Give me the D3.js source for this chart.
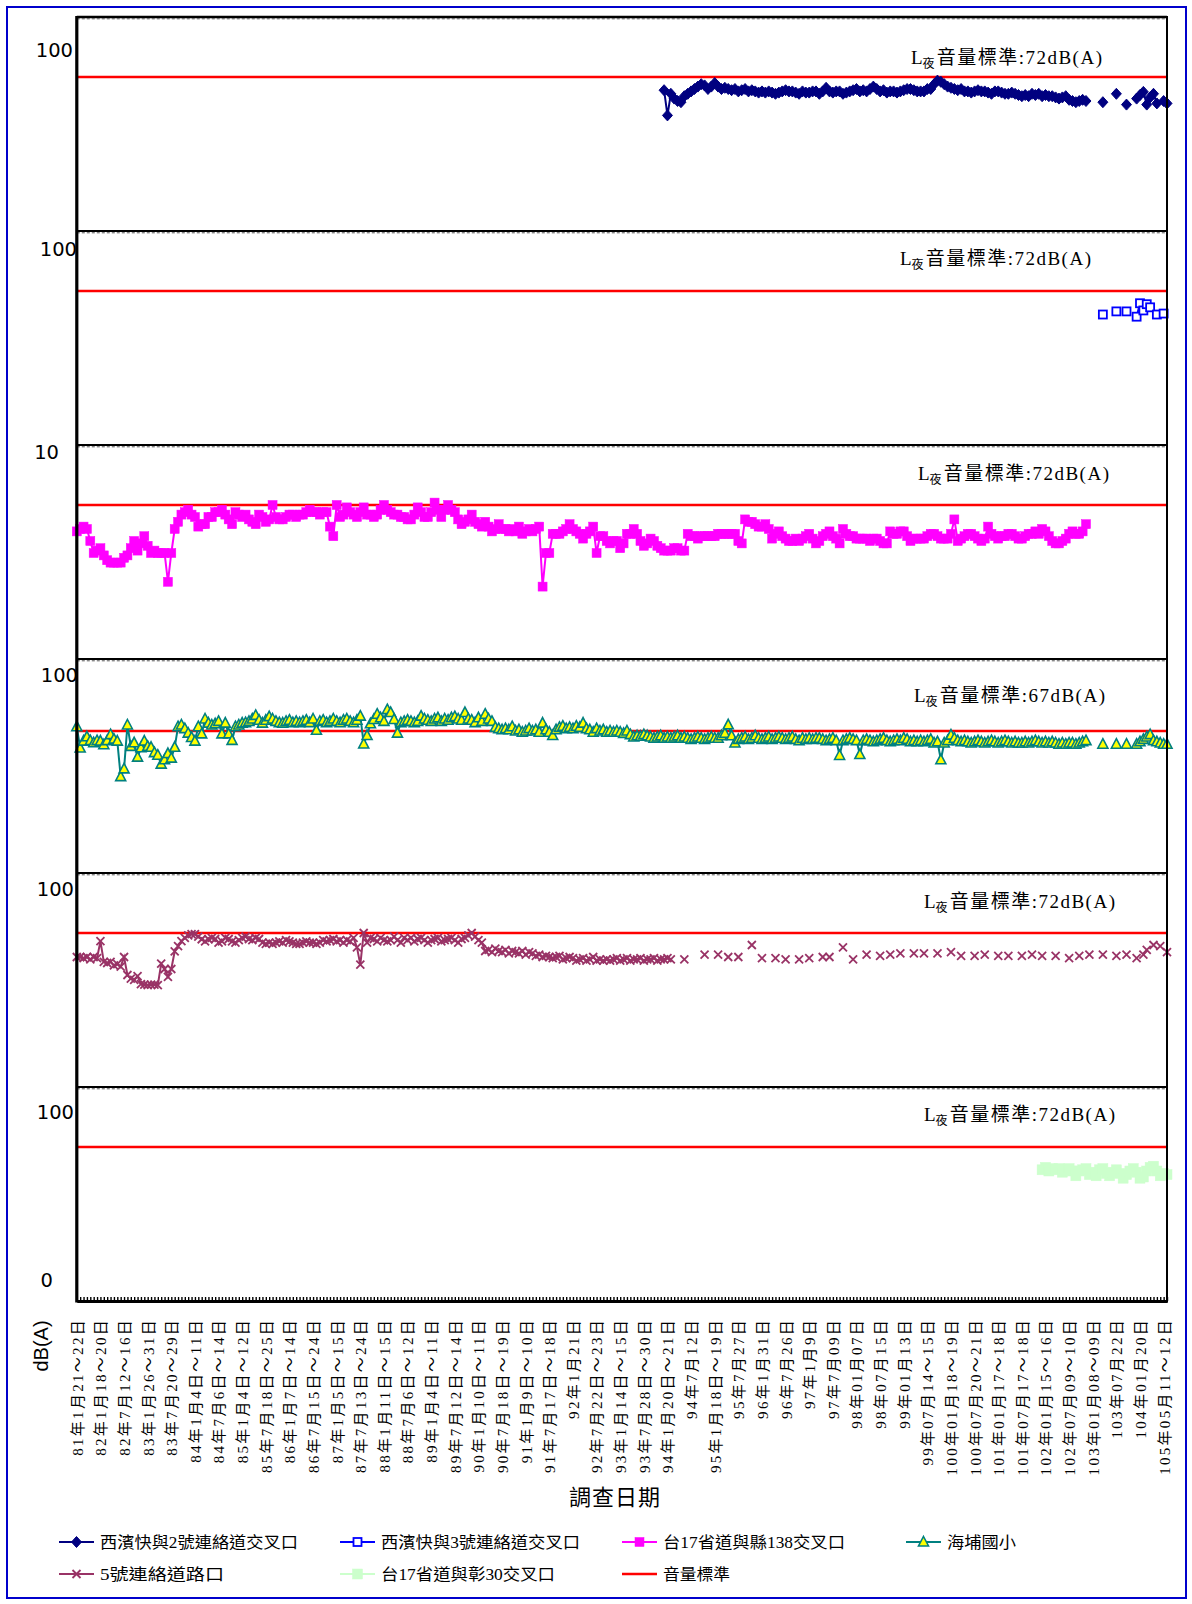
<!DOCTYPE html>
<html><head><meta charset="utf-8">
<script src="https://cdn.jsdelivr.net/npm/d3@7"></script>
<style>body{margin:0;background:#fff}svg{display:block}</style>
</head><body>
<svg id="chart" width="1192" height="1604"></svg>
<script>
// ---------------- DATA ----------------
const categoryCount = 324;           // survey sample slots along the x axis
const labelStep = 7;                 // one date label every 7 slots
const tickLabels = ["81年1月21～22日","82年1月18～20日","82年7月12～16日","83年1月26～31日","83年7月20～29日",
 "84年1月4日～11日","84年7月6日～14日","85年1月4日～12日","85年7月18日～25日","86年1月7日～14日",
 "86年7月15日～24日","87年1月5日～15日","87年7月13日～24日","88年1月11日～15日","88年7月6日～12日",
 "89年1月4日～11日","89年7月12日～14日","90年1月10日～11日","90年7月18日～19日","91年1月9日～10日",
 "91年7月17日～18日","92年1月21日","92年7月22日～23日","93年1月14日～15日","93年7月28日～30日",
 "94年1月20日～21日","94年7月12日","95年1月18日～19日","95年7月27日","96年1月31日","96年7月26日",
 "97年1月9日","97年7月09日","98年01月07日","98年07月15日","99年01月13日","99年07月14～15日",
 "100年01月18～19日","100年07月20～21日","101年01月17～18日","101年07月17～18日","102年01月15～16日",
 "102年07月09～10日","103年01月08～09日","103年07月22日","104年01月20日","105年05月11～12日"];

const seriesNames = ["西濱快與2號連絡道交叉口","西濱快與3號連絡道交叉口","台17省道與縣138交叉口","海埔國小","5號連絡道路口","台17省道與彰30交叉口"];
const standardName = "音量標準";
const standardLimits = [72,72,72,67,72,72];
const panelAxisLabels = ["100","100","10","100","100","100"];

// 西濱快與2號連絡道交叉口 (start index 174)
const s1Start = 174;
const s1Values = [66.5,56,65,63,62,61.5,64,65,66,67,
 68,69,68.5,67,68,69.5,68,67,67.5,67,
 66.5,67,66,66.5,67,66,66.5,66,65.5,66,
 65.5,66,65.5,65,65.5,66,66.5,66,66,65.5,
 65,66,65.5,65.5,66,66,65,66,67.5,66,
 65.5,66,66,65,65.5,66,66.5,67,66,66.5,
 66,67,68,67,66,66.5,65.5,66,66,65.5,
 66,66.5,67,67,66.5,66,66,66,67,67,
 69,70.5,70,69,68,67.5,67,66.5,67,66,
 66,65.5,66,66.5,66,66,65.5,65,66,66,
 65.5,65,65,65.5,65,64.5,64,64.5,64,65,
 64.5,65,64,64.5,64,64,63.5,63,63.5,64,
 62.5,62,61.5,62,62.5,62,
 null,null,null,null,61.5,null,null,null,65,null,null,60.5,null,null,
 63,64.5,65.8,60.5,63.5,65,61,null,62,61];

// 西濱快與3號連絡道交叉口 (start index 304)
const s2Start = 304;
const s2Values = [62.2,null,null,null,63.5,null,null,63.5,null,null,61.3,66.9,63.9,66.5,65.2,null,62.2,null,62.6];

// 台17省道與縣138交叉口 (start index 0)
const s3Start = 0;
const s3Values = [61,62,63,62,57,52,53,54,51,49,
 48,48,48,48,50,51,54,57,53,56,
 59,55,52,53,52,52,52,40,52,62,
 65,68,69,70,68,67,63,64,64,67,
 67,69,69,70,68,66,64,69,68,67,
 68,66,65,64,68,67,65,66,72,67,
 66,66,67,68,68,67,68,68,69,70,
 69,69,68,69,69,63,59,72,67,68,
 71,69,68,67,69,71,68,68,67,68,
 70,72,70,69,68,68,67,67,66,66,
 68,71,69,67,67,69,73,70,67,70,
 72,70,69,66,64,65,66,68,65,64,
 63,65,63,61,62,64,62,62,61,62,
 61,63,60,61,62,61,62,63,38,
 52,52,60,60,60,61,62,64,62,61,60,
 58,60,61,63,52,59,59,57,56,57,
 57,54,56,60,60,62,60,57,55,56,
 58,57,55,54,53,53,53,54,54,53,
 53,60,59,59,58,59,59,59,59,59,
 60,60,60,60,60,60,57,56,66,65,
 65,64,63,63,64,62,58,60,61,59,
 58,57,57,58,57,58,59,60,58,56,
 57,59,60,61,59,58,56,62,60,59,
 59,58,58,58,58,57,58,58,57,56,
 56,61,60,60,61,61,59,57,58,58,
 58,58,59,60,60,59,58,58,58,60,
 66,57,58,59,60,60,59,58,57,58,
 63,60,59,58,59,59,60,60,59,58,
 58,59,60,60,61,60,62,61,59,57,
 56,56,57,58,60,61,60,60,61,64];

// 海埔國小 (start index 0)
const s4Start = 0;
const s4Values = [68.8,59.9,62.8,64.6,63,62.1,63,62.8,61.3,63,
 65.5,63.6,62.8,48,51.2,69.5,60.6,62.1,56.1,60,
 62.8,60.6,60.2,58,56.9,53.2,55,57.6,55.7,60.2,
 68.8,69.5,68,66.1,64.3,62.8,68.8,65.8,72,70.3,
 69.5,70,71,65.8,70.3,65.8,63.1,68.8,69.5,70.3,
 70.5,71,72,73.5,71.5,70.3,71.5,73,72,71,
 70.5,70.3,71,71.5,70.5,71,70.5,71,71.5,70.5,
 72,67.3,71,71.5,70.5,71,72,71,70.5,71.5,
 72,71,70.5,71.5,73.2,61.6,65.1,70,71.8,74,
 72.5,71,75.9,74.7,71.8,66.1,70.5,71,71.5,71,
 70.5,71,73.2,72,71.5,71,72,72.5,71,72,
 71.5,72.5,73,72,71.5,74.7,72,71.5,70.5,72.5,
 71,74,72,71,68.5,68,67.5,68,67.5,68.8,
 67,67.5,66.5,67,68,67,67.5,66.5,70.3,67.5,
 66.5,65.1,67.5,68.5,69,68,68.5,68,69,68.5,
 70.3,68,67.5,66.5,68,67,67.5,66.5,67,66.5,
 67,66.5,66,67,65.5,64.5,65,64.8,65.5,65,
 64.5,64,64.5,65,64,64.5,64,64.5,65,64,
 64.5,64,63.5,64,64.5,64,63.5,64,64.5,64,
 64,65,66,69.6,65,62,63.5,64,64.5,63.5,
 64,65,64,63.5,64,64.5,63.5,64,64.5,64,
 63.5,64,64.5,63.5,63,64,63.5,64,63.5,64,
 64,63.5,63,63.5,64,63,56.8,63,63.5,64,
 63.5,63,57.2,63,63.5,63,62.5,63,63.5,64,
 63,62.5,63,63.5,63,64,63.5,62.5,63,62.5,
 63,62.5,63,63.5,62,62.5,55,62,63,65.3,
 64,63,62.5,63,62.5,62,62.5,63,62.5,62,
 62.5,63,62.5,62,62.5,63,62.5,62,62.5,62,
 62,62.5,62,62.5,63,62.5,62,62.5,62,62.5,
 62,61.5,62,61.5,62,62,61.5,62,62.5,63,
 null,null,null,null,61.5,null,null,null,61.5,null,null,61.5,null,null,
 61.5,62.5,63.5,64.5,65.5,63,62.5,62,61.5,61.5];

// 5號連絡道路口 (start index 0)
const s5Start = 0;
const s5Values = [62,62,61.5,62,61,62,61.5,68.6,60,59.5,
 60,58.5,59,58,62,54.5,53,52.5,54,50.7,
 50.5,50.3,50.5,50.5,50.3,59.2,57,53.7,57,64.3,
 66.5,68.6,70,71,71.5,71.5,70.5,69.4,68.5,69.4,
 70,69.5,68,68.5,70,69.5,68.5,68,69,70,
 70.5,69.5,69,70,69.5,68,67.5,68,67.5,68,
 68.5,68,69,68.5,68,67.5,67.5,68,68.5,68,
 68,67.5,68,69,68.5,69,69.5,68.5,69,68,
 69,68.5,70,66,58.8,72,68,70,69.5,68.5,
 70,69,68.5,69,70.5,69,68,70,69,70,
 68.5,69.5,70,69,68,69,69.5,70,68.5,69,
 69.5,70,69,68,69.5,70,71,72,70.5,69,
 68,64.5,65,64,65.5,64.5,64,65,63.5,64.5,
 64,63.5,64.5,63,64,63.5,62.5,63,62,62.5,
 62,61.5,62,62.5,61,61.5,62,61.5,60.5,61,
 61.5,60.5,61,62,60.5,61,60.5,61,60.5,61,
 61.5,60.5,61,61.5,60.5,61,61,61.5,60.5,61,
 61,61.5,60.5,61,61,61.5,61,
 null,null,null,61,null,null,null,null,null,63,null,null,null,63,null,null,62,null,null,62,
 null,null,null,67,null,null,61.5,null,null,null,61.5,null,null,61,null,null,null,61,null,null,
 61.5,null,null,null,62,null,62,null,null,null,66,null,null,61,null,null,null,63,null,null,
 null,62.5,null,null,63,null,null,63.5,null,null,null,63.5,null,null,63.5,null,null,null,63.5,null,
 null,null,64,null,null,62.5,null,null,null,62.5,null,null,63,null,null,null,62.5,null,null,62.5,
 null,null,null,62.5,null,null,63,null,null,62.5,null,null,null,62.5,null,null,null,61.5,null,null,
 62.5,null,null,63,null,null,null,63,null,null,null,62.5,null,null,63,null,null,61.5,null,63,
 65,null,67,null,66.5,null,64];

// 台17省道與彰30交叉口 (start index 286)
const s6Start = 286;
const s6Values = [62.5,63.5,62,63,62.5,63,61.5,62.5,63,62,
 60,62,62.5,63,60.5,61.5,60,62.5,63,61,
 60,61.5,62.5,61,59,60.5,62,63,61.5,59,
 59.5,62,63.5,64,62,60,61,60.5];

// ---------------- LAYOUT ----------------
const svg = d3.select("#chart");
const plotL = 76.8, plotR = 1167, plotT = 17, panelH = 214, nPanels = 6;
const plotB = plotT + panelH * nPanels;
const dbTop = 97, dbBottom = dbTop - panelH / 2.4;

const x = d3.scalePoint().domain(d3.range(categoryCount)).range([plotL, plotR]).padding(0);
const yFor = k => d3.scaleLinear().domain([dbBottom, dbTop]).range([plotT + panelH * (k + 1), plotT + panelH * k]);

const serifFont = "'Liberation Serif','Noto Sans CJK TC',serif";
const cjkFont = "'Liberation Serif','Noto Sans CJK TC',sans-serif";

svg.append("rect").attr("x", 7).attr("y", 7).attr("width", 1179).attr("height", 1591)
  .attr("fill", "none").attr("stroke", "#0000CC").attr("stroke-width", 2);

const styles = [
  {color:"#000080", marker:"diamond", fill:"#000080"},
  {color:"#0000FF", marker:"square", fill:"#FFFFFF", size:8},
  {color:"#FF00FF", marker:"square", fill:"#FF00FF", size:9},
  {color:"#008080", marker:"triangle", fill:"#FFFF00"},
  {color:"#993366", marker:"cross", fill:"none"},
  {color:"#CCFFCC", marker:"square", fill:"#CCFFCC", size:10}
];
const seriesData = [
  [s1Start, s1Values],[s2Start, s2Values],[s3Start, s3Values],
  [s4Start, s4Values],[s5Start, s5Values],[s6Start, s6Values]
].map(([st, vals]) => vals.map((v, i) => ({i: st + i, v: v})));

function drawMarker(g, st, cx, cy) {
  if (st.marker === "diamond") {
    g.append("path").attr("d", `M${cx},${cy-5.5}L${cx+5},${cy}L${cx},${cy+5.5}L${cx-5},${cy}Z`)
      .attr("fill", st.fill).attr("stroke", st.color).attr("stroke-width", 1);
  } else if (st.marker === "square") {
    const s = st.size;
    g.append("rect").attr("x", cx - s/2).attr("y", cy - s/2).attr("width", s).attr("height", s)
      .attr("fill", st.fill).attr("stroke", st.color).attr("stroke-width", st.fill === "#FFFFFF" ? 1.8 : 0.5);
  } else if (st.marker === "triangle") {
    g.append("path").attr("d", `M${cx},${cy-5.5}L${cx+5},${cy+4}L${cx-5},${cy+4}Z`)
      .attr("fill", st.fill).attr("stroke", st.color).attr("stroke-width", 1.6);
  } else if (st.marker === "cross") {
    g.append("path").attr("d", `M${cx-4},${cy-4}L${cx+4},${cy+4}M${cx-4},${cy+4}L${cx+4},${cy-4}`)
      .attr("stroke", st.color).attr("stroke-width", 1.8).attr("fill", "none");
  }
}

for (let k = 0; k < nPanels; k++) {
  const y = yFor(k);
  const g = svg.append("g");
  g.append("line").attr("x1", plotL).attr("x2", plotR)
    .attr("y1", y(standardLimits[k])).attr("y2", y(standardLimits[k]))
    .attr("stroke", "#FF0000").attr("stroke-width", 2.6);
  const st = styles[k];
  const line = d3.line().defined(d => d.v != null).x(d => x(d.i)).y(d => y(d.v));
  g.append("path").datum(seriesData[k]).attr("d", line)
    .attr("fill", "none").attr("stroke", st.color).attr("stroke-width", 2);
  const mg = g.append("g");
  seriesData[k].filter(d => d.v != null).forEach(d => drawMarker(mg, st, x(d.i), y(d.v)));
}

for (let k = 0; k < nPanels; k++) {
  const yy = plotT + panelH * k;
  svg.append("line").attr("x1", plotL).attr("x2", plotR).attr("y1", yy).attr("y2", yy)
    .attr("stroke", "#000").attr("stroke-width", k === 0 ? 2.6 : 2);
  svg.append("line").attr("x1", plotL).attr("x2", plotR).attr("y1", yy + 1.8).attr("y2", yy + 1.8)
    .attr("stroke", "#555").attr("stroke-width", 1).attr("stroke-dasharray", "3,2");
}
svg.append("line").attr("x1", plotL).attr("x2", plotL).attr("y1", plotT - 1).attr("y2", plotB + 1.5)
  .attr("stroke", "#000").attr("stroke-width", 3.2);
svg.append("line").attr("x1", plotR).attr("x2", plotR).attr("y1", plotT - 1).attr("y2", plotB + 1.5)
  .attr("stroke", "#000").attr("stroke-width", 2);
for (let k = 1; k < nPanels; k++) {
  const yy = plotT + panelH * k;
  svg.append("line").attr("x1", plotL).attr("x2", plotL + 6).attr("y1", yy).attr("y2", yy)
    .attr("stroke", "#000").attr("stroke-width", 2);
}

const xAxis = d3.axisBottom(x).tickSizeInner(-4).tickSizeOuter(0)
  .tickFormat(d => d % labelStep === 0 ? (tickLabels[d / labelStep] || "") : "");
const ax = svg.append("g").attr("transform", `translate(0,${plotB})`).call(xAxis);
ax.select(".domain").attr("stroke", "#000").attr("stroke-width", 3.2);
ax.selectAll(".tick line").attr("stroke", "#000").attr("stroke-width", 1.4);
ax.selectAll(".tick text")
  .attr("transform", "rotate(-90)").attr("x", -17).attr("y", 0).attr("dy", "0.36em")
  .style("text-anchor", "end").style("font-family", serifFont).style("font-size", "15px")
  .style("letter-spacing", "2.3px").attr("fill", "#000");

const yLabelPos = [[73, 57],[77, 256],[59, 459],[78, 682],[74, 896],[74, 1119]];
panelAxisLabels.forEach((t, k) => {
  svg.append("text").attr("x", yLabelPos[k][0]).attr("y", yLabelPos[k][1]).attr("text-anchor", "end")
    .style("font-family", "'DejaVu Sans',sans-serif").style("font-size", "19.5px").text(t);
});
svg.append("text").attr("x", 53).attr("y", 1287).attr("text-anchor", "end")
  .style("font-family", "'DejaVu Sans',sans-serif").style("font-size", "19.5px").text("0");

const stdLabelPos = [[911, 64],[900, 265],[918, 480],[914, 702],[924, 908],[924, 1121]];
standardLimits.forEach((v, k) => {
  const t = svg.append("text").attr("x", stdLabelPos[k][0]).attr("y", stdLabelPos[k][1])
    .style("font-family", serifFont).style("font-size", "19px").attr("fill", "#000");
  t.append("tspan").text("L");
  t.append("tspan").attr("dy", 4).style("font-size", "12px").text("夜");
  t.append("tspan").attr("dy", -4).attr("dx", 2).style("letter-spacing", "1.5px").text(`音量標準:${v}dB(A)`);
});

svg.append("text").attr("transform", "translate(48,1346) rotate(-90)").attr("text-anchor", "middle")
  .style("font-family", "'Liberation Sans',sans-serif").style("font-size", "20px").text("dB(A)");
svg.append("text").attr("x", 615).attr("y", 1505).attr("text-anchor", "middle")
  .style("font-family", serifFont).style("font-size", "22px").style("letter-spacing", "1px").text("調查日期");

const legendItems = [
  {name: seriesNames[0], st: styles[0], x: 59, y: 1542, w: 198},
  {name: seriesNames[1], st: styles[1], x: 340, y: 1542, w: 199},
  {name: seriesNames[2], st: styles[2], x: 622, y: 1542, w: 182},
  {name: seriesNames[3], st: styles[3], x: 906, y: 1542, w: 69},
  {name: seriesNames[4], st: styles[4], x: 59, y: 1574, w: 124},
  {name: seriesNames[5], st: styles[5], x: 340, y: 1574, w: 174},
  {name: standardName, st: {color: "#FF0000", marker: "none"}, x: 622, y: 1574, w: 67}
];
legendItems.forEach(it => {
  const g = svg.append("g");
  g.append("line").attr("x1", it.x).attr("x2", it.x + 35).attr("y1", it.y).attr("y2", it.y)
    .attr("stroke", it.st.color).attr("stroke-width", it.st.marker === "none" ? 2.6 : 2);
  if (it.st.marker !== "none") drawMarker(g, it.st, it.x + 17.5, it.y);
  g.append("text").attr("x", it.x + 41).attr("y", it.y + 6)
    .attr("textLength", it.w).attr("lengthAdjust", "spacingAndGlyphs")
    .style("font-family", cjkFont).style("font-size", "16px").text(it.name);
});
</script>
</body></html>
